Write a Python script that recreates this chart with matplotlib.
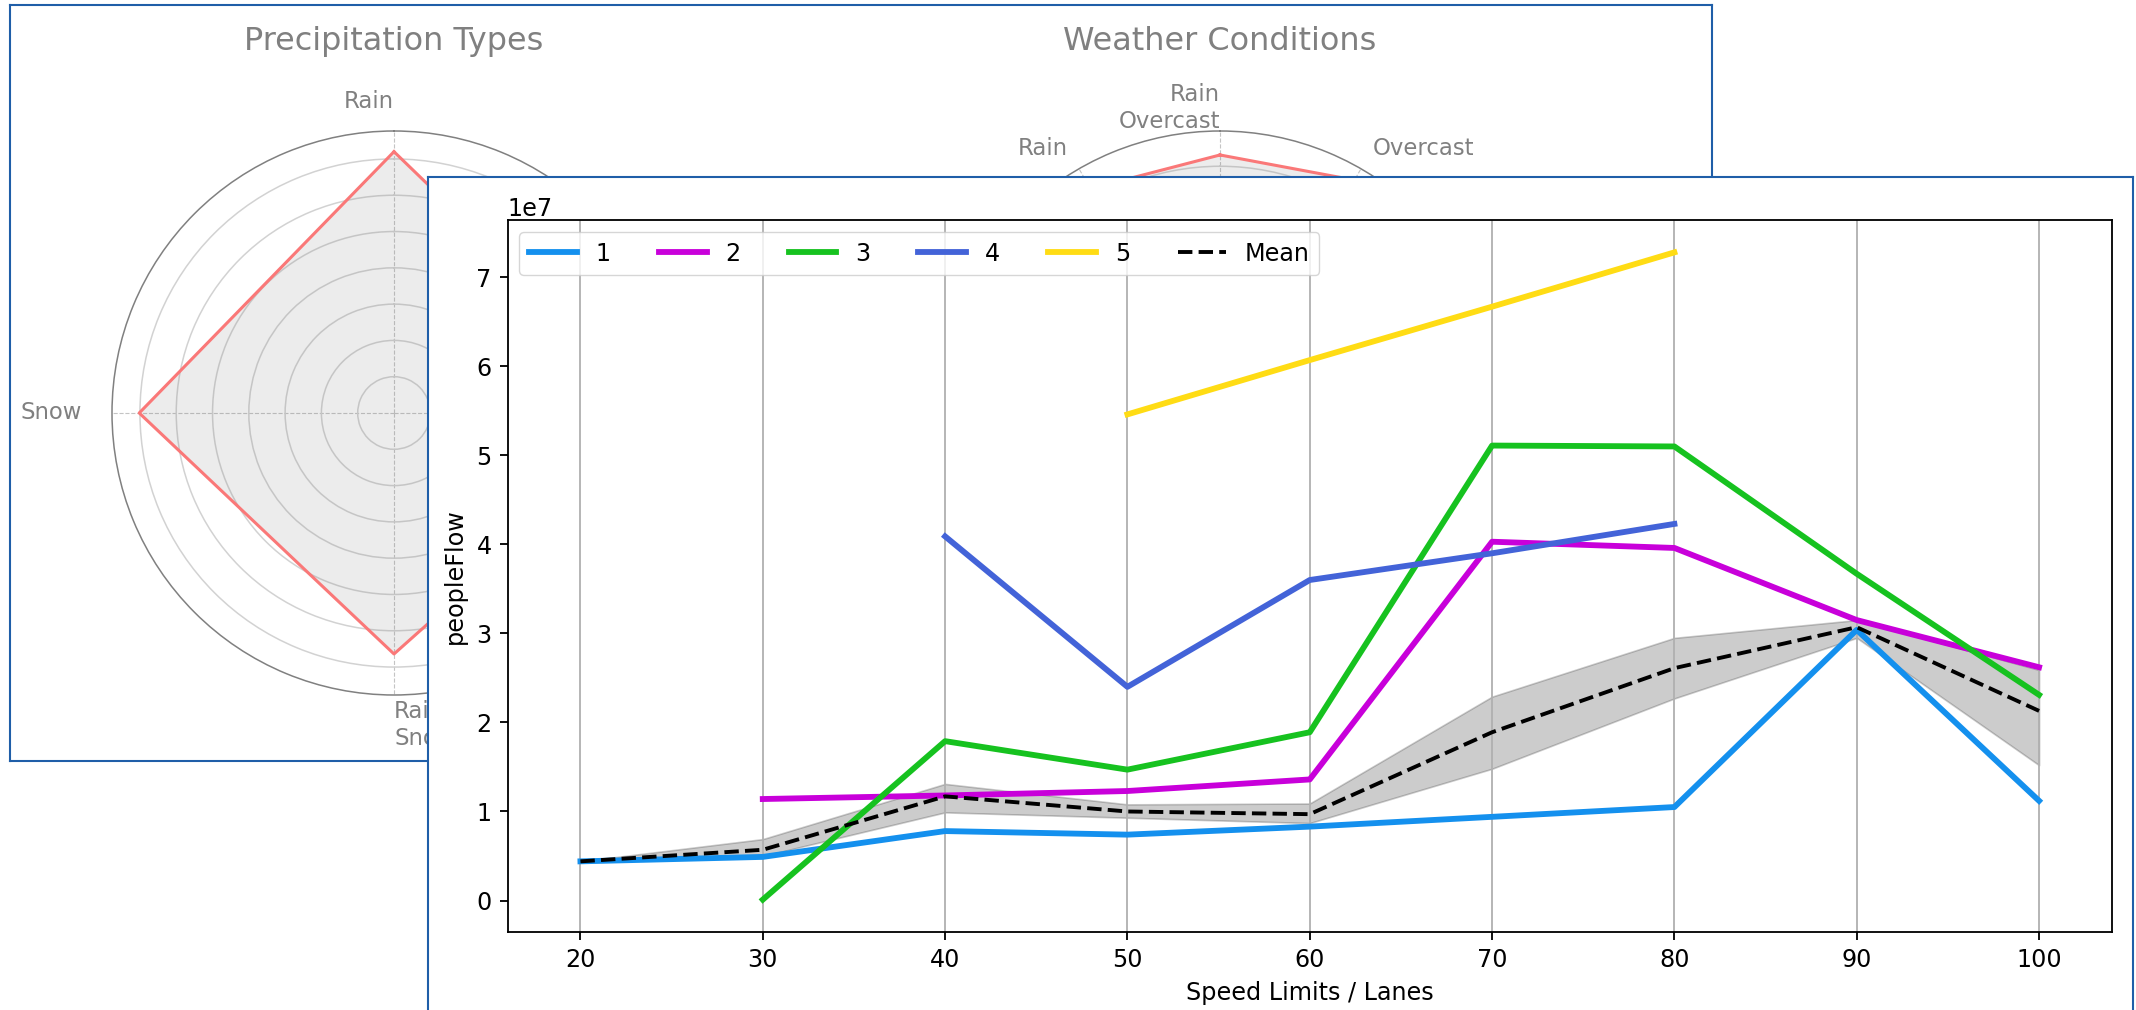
import numpy as np
import matplotlib
matplotlib.use("Agg")
import matplotlib.pyplot as plt

# ---------------- data ----------------
precip_categories = ["Rain", "None", "Rain\nSnow", "Snow"]
precip_values = [7.20, 7.44, 6.64, 7.02]

weather_categories = ["Rain\nOvercast", "Overcast", "Cloudy", "Rain\nCloudy",
                      "Clear", "Snow\nOvercast", "Mixed", "Snow",
                      "Snow\nCloudy", "Snow\nRain", "Other", "Rain"]
weather_values = [7.32, 7.63, 6.4, 5.1, 4.2, 2.6, 1.8, 2.2, 1.5, 1.9, 1.2, 7.35]

speed_limits = [20, 30, 40, 50, 60, 70, 80, 90, 100]
series_names = ["1", "2", "3", "4", "5"]
s1_x = [20, 30, 40, 50, 60, 70, 80, 90, 100]
s1_y = [4.4e6, 4.9e6, 7.8e6, 7.4e6, 8.3e6, 9.4e6, 1.05e7, 3.04e7, 1.12e7]
s2_x = [30, 40, 50, 60, 70, 80, 90, 100]
s2_y = [1.14e7, 1.18e7, 1.23e7, 1.36e7, 4.03e7, 3.96e7, 3.15e7, 2.62e7]
s3_x = [30, 40, 50, 60, 70, 80, 90, 100]
s3_y = [1.0e5, 1.79e7, 1.47e7, 1.89e7, 5.11e7, 5.10e7, 3.67e7, 2.31e7]
s4_x = [40, 50, 60, 70, 80]
s4_y = [4.09e7, 2.40e7, 3.60e7, 3.90e7, 4.23e7]
s5_x = [50, 60, 70, 80]
s5_y = [5.46e7, 6.07e7, 6.67e7, 7.28e7]
mean_y = [4.4e6, 5.7e6, 1.17e7, 1.00e7, 9.7e6, 1.89e7, 2.61e7, 3.07e7, 2.13e7]
ci_low = [4.4e6, 5.0e6, 9.9e6, 9.3e6, 8.7e6, 1.48e7, 2.27e7, 2.95e7, 1.52e7]
ci_high = [4.4e6, 6.9e6, 1.31e7, 1.08e7, 1.09e7, 2.29e7, 2.95e7, 3.15e7, 2.59e7]

series_colors = ["#1490ee", "#c800da", "#16c21f", "#4363d8", "#ffdc14"]

# ---------------- style ----------------
W, H, DPI = 2136, 1010, 100
S = 1.64  # scale relative to default sizes
FS = 10 * S
FS_LINE = 17.2
plt.rcParams.update({
    "font.family": ["DejaVu Sans"],
    "font.size": FS_LINE,
    "axes.linewidth": 0.8 * S,
    "xtick.major.size": 3.5 * S, "ytick.major.size": 3.5 * S,
    "xtick.major.width": 0.8 * S, "ytick.major.width": 0.8 * S,
    "xtick.major.pad": 3.5 * S, "ytick.major.pad": 3.5 * S,
    "axes.labelpad": 4.0 * S,
    "grid.linewidth": 0.8 * S,
})

fig = plt.figure(figsize=(W / DPI, H / DPI), dpi=DPI)


def px_rect(l, t, r, b):
    return [l / W, 1 - b / H, (r - l) / W, (b - t) / H]


border_color = "#1f5ea8"


def panel(rect):
    ax = fig.add_axes(rect)
    ax.set_xticks([])
    ax.set_yticks([])
    ax.set_facecolor("white")
    for sp in ax.spines.values():
        sp.set_color(border_color)
        sp.set_linewidth(1.5)
    return ax


# back panel with radars
panel(px_rect(9.5, 5, 1712, 761))


def radar(rect, cats, vals, rmax, rticks, title, label_r):
    ax = fig.add_axes(rect, projection="polar")
    n = len(cats)
    angles = np.linspace(0, 2 * np.pi, n, endpoint=False)
    ax.set_theta_offset(np.pi / 2)
    ax.set_theta_direction(-1)
    a = np.append(angles, angles[0])
    v = np.append(vals, vals[0])
    ax.fill(a, v, color="gray", alpha=0.15, zorder=2, lw=0)
    ax.plot(a, v, color="#fa7878", lw=2.2, zorder=3)
    ax.set_ylim(0, rmax)
    ax.set_yticks(rticks)
    ax.set_yticklabels([])
    ax.set_xticks(angles)
    ax.set_xticklabels([])
    ax.yaxis.grid(True, color="#d2d2d2", lw=1.1, ls="-")
    ax.xaxis.grid(True, color="#c4c4c4", lw=0.8, ls="--")
    ax.spines["polar"].set_color("#808080")
    ax.spines["polar"].set_linewidth(1.1)
    for ang, cat in zip(angles, cats):
        std = (90 - np.degrees(ang)) % 360
        ha = "right" if 90 <= std < 270 else "left"
        ax.text(ang, rmax * label_r, cat, ha=ha, va="center", color="gray",
                fontsize=FS, clip_on=False)
    ax.set_title(title, y=1.158, va="center", pad=0, color="gray", fontsize=14 * S)
    return ax


radar(px_rect(112, 131, 676, 695), precip_categories, precip_values, 7.77,
      [1, 2, 3, 4, 5, 6, 7], "Precipitation Types", 1.106)
radar(px_rect(938, 131, 1502, 695), weather_categories, weather_values, 8.0,
      [1, 2, 3, 4, 5, 6, 7], "Weather Conditions", 1.082)

# front panel with line chart
panel(px_rect(428, 177, 2133, 1040))
ax = fig.add_axes(px_rect(507.5, 220, 2112, 932))

ax.fill_between(speed_limits, ci_low, ci_high, color="black", alpha=0.2, lw=1.2, zorder=1)
xs = [s1_x, s2_x, s3_x, s4_x, s5_x]
ys = [s1_y, s2_y, s3_y, s4_y, s5_y]
for x, y, c, name in zip(xs, ys, series_colors, series_names):
    ax.plot(x, y, color=c, lw=4.2, label=name, zorder=2)
ax.plot(speed_limits, mean_y, color="black", ls="--", lw=2.8, label="Mean", zorder=3)

ax.set_xticks(speed_limits)
ax.grid(axis="x", color="#b0b0b0")
ax.set_xlabel("Speed Limits / Lanes")
ax.set_ylabel("peopleFlow")
ax.legend(loc="upper left", ncol=6)

fig.savefig("out.png", dpi=DPI)
